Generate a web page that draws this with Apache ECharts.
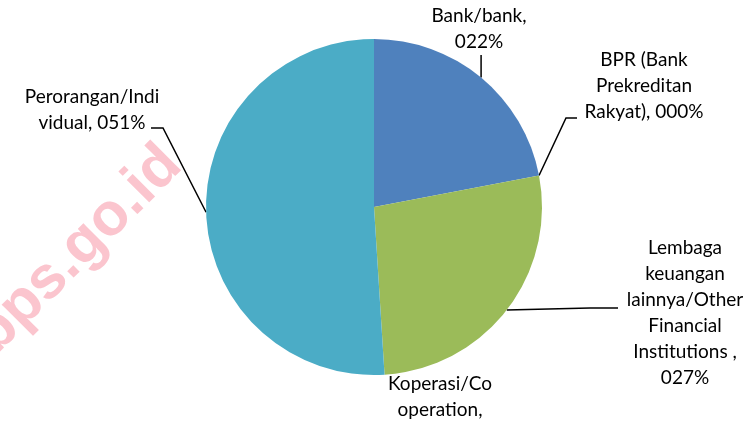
<!DOCTYPE html>
<html>
<head>
<meta charset="utf-8">
<script src="https://cdn.jsdelivr.net/npm/echarts@6/dist/echarts.min.js"></script>
<style>
  html, body { margin: 0; padding: 0; background: #ffffff; }
  #chart { width: 753px; height: 422px; }
</style>
</head>
<body>
<div id="chart"></div>
<script>
// Credit providers, share of total (percent)
const categories = [
  'Bank/bank',
  'BPR (Bank\nPrekreditan\nRakyat)',
  'Lembaga\nkeuangan\nlainnya/Other\nFinancial\nInstitutions ',
  'Koperasi/Co\noperation',
  'Perorangan/Indi\nvidual'
];
const shares = [22, 0, 27, 0, 51];
// whether the value goes on its own line after the name
const valueOnNewLine = [true, false, true, true, false];
const sliceColors = ['#4f81bd', '#c0504d', '#9bbb59', '#8064a2', '#4bacc6'];

const FONT = 'Lato';

function fmtShare(v) {
  return String(Math.round(v)).padStart(3, '0') + '%';
}

// label anchor boxes (text centre) and leader-line bends
const labelPlace = [
  { x: 479, y: 29, bend: function (p) { return [p, [p[0], 55], [p[0], 55]]; } },
  { x: 644, y: 86, bend: function (p) { return [p, [566, 118], [577, 118]]; } },
  { x: 685, y: 313, bend: function (p) { return [p, [590, 308], [618, 308]]; } },
  { x: 440, y: 410, bend: null },
  { x: 92, y: 110, bend: function (p) { return [p, [163, 128], [151, 128]]; } }
];

const chart = echarts.init(document.getElementById('chart'), null, { renderer: 'canvas' });

const data = categories.map(function (name, i) {
  return {
    name: name,
    value: shares[i],
    itemStyle: { color: sliceColors[i] },
    labelLine: { show: labelPlace[i].bend !== null }
  };
});

chart.setOption({
  animation: false,
  backgroundColor: '#ffffff',
  graphic: [{
    type: 'text',
    x: 78,
    y: 250,
    rotation: Math.PI / 4,
    silent: true,
    style: {
      text: 'bps.go.id',
      font: 'bold 60px "Liberation Sans", Arial, sans-serif',
      fill: '#fbc5ce',
      align: 'center',
      verticalAlign: 'middle'
    },
    z: -10
  }],
  series: [{
    type: 'pie',
    center: [374, 207],
    radius: 168,
    startAngle: 90,
    clockwise: true,
    minShowLabelAngle: 0,
    avoidLabelOverlap: false,
    data: data,
    itemStyle: { borderWidth: 0 },
    emphasis: { disabled: true },
    label: {
      show: true,
      position: 'outside',
      fontFamily: FONT,
      fontSize: 19,
      lineHeight: 26,
      color: '#000000',
      align: 'center',
      formatter: function (p) {
        const sep = valueOnNewLine[p.dataIndex] ? ',\n' : ', ';
        return p.name + sep + fmtShare(p.value);
      }
    },
    labelLine: {
      show: true,
      length: 10,
      length2: 10,
      smooth: false,
      lineStyle: { color: '#000000', width: 1.5 }
    },
    labelLayout: function (params) {
      const place = labelPlace[params.dataIndex];
      const out = {
        x: place.x,
        y: place.y,
        align: 'center',
        verticalAlign: 'middle'
      };
      if (place.bend && params.labelLinePoints) {
        out.labelLinePoints = place.bend(params.labelLinePoints[0]);
      }
      return out;
    }
  }]
});
</script>
</body>
</html>
